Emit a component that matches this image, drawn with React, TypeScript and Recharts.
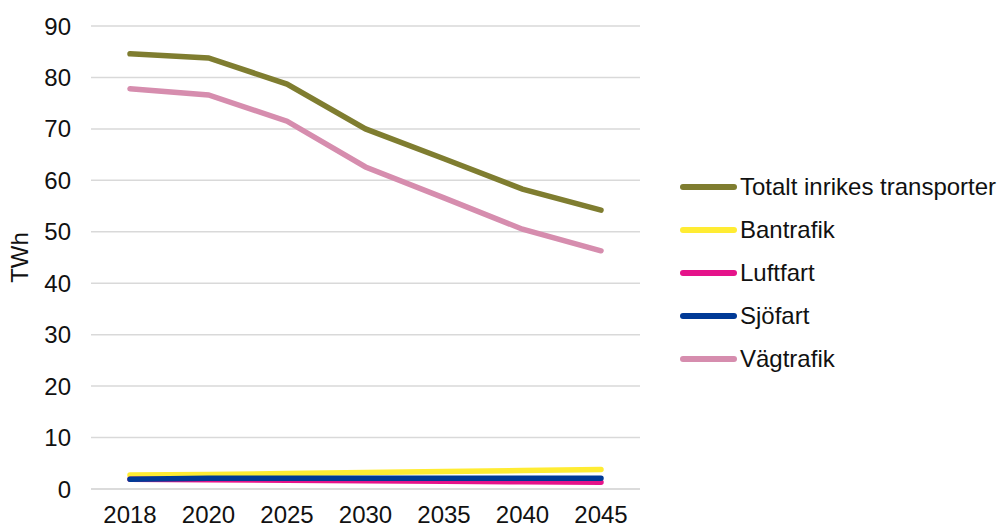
import { LineChart, Line, XAxis, YAxis, CartesianGrid } from 'recharts';

const years = ['2018', '2020', '2025', '2030', '2035', '2040', '2045'];
const totalt = [84.6, 83.8, 78.7, 70.0, 64.2, 58.3, 54.2];
const bantrafik = [2.7, 2.8, 3.0, 3.2, 3.4, 3.6, 3.8];
const luftfart = [1.9, 1.8, 1.7, 1.6, 1.5, 1.4, 1.3];
const sjofart = [1.9, 2.1, 2.1, 2.1, 2.1, 2.1, 2.1];
const vagtrafik = [77.8, 76.6, 71.5, 62.6, 56.6, 50.5, 46.3];
const yTicks = [0, 10, 20, 30, 40, 50, 60, 70, 80, 90];

const series = [
  { key: 'totalt', name: 'Totalt inrikes transporter', color: '#7f7d30', values: totalt },
  { key: 'bantrafik', name: 'Bantrafik', color: '#ffec33', values: bantrafik },
  { key: 'luftfart', name: 'Luftfart', color: '#e5138a', values: luftfart },
  { key: 'sjofart', name: 'Sjöfart', color: '#003a96', values: sjofart },
  { key: 'vagtrafik', name: 'Vägtrafik', color: '#d68dae', values: vagtrafik },
];

const data = years.map((year, i) => {
  const row: Record<string, string | number> = { year };
  series.forEach((s) => {
    row[s.key] = s.values[i];
  });
  return row;
});

const font = 'Arial, "Liberation Sans", sans-serif';
const textColor = '#111';

function LegendBox() {
  return (
    <div
      style={{
        position: 'absolute',
        left: 680,
        top: 165,
        fontFamily: font,
        fontSize: 24,
        color: textColor,
        whiteSpace: 'nowrap',
      }}
    >
      {series.map((s) => (
        <div key={s.key} style={{ display: 'flex', alignItems: 'center', height: 43 }}>
          <div style={{ width: 57, height: 6, background: s.color, borderRadius: 3, marginRight: 3 }} />
          <span>{s.name}</span>
        </div>
      ))}
    </div>
  );
}

export default function App() {
  return (
    <div style={{ position: 'absolute', left: 0, top: 0, width: 1001, height: 526, background: '#fff', overflow: 'hidden' }}>
      <LineChart width={1001} height={526} data={data} margin={{ top: 26, right: 361, bottom: 0, left: 0 }}>
        <CartesianGrid vertical={false} stroke="#d9d9d9" strokeWidth={1.5} />
        <XAxis
          dataKey="year"
          height={37}
          padding={{ left: 39, right: 39 }}
          axisLine={{ stroke: '#d9d9d9', strokeWidth: 1.5 }}
          tickLine={false}
          tickMargin={11}
          tick={{ fontFamily: font, fontSize: 24, fill: textColor }}
        />
        <YAxis
          width={91}
          domain={[0, 90]}
          ticks={yTicks}
          axisLine={false}
          tickLine={false}
          tickMargin={14}
          tick={{ fontFamily: font, fontSize: 24, fill: textColor }}
          label={{
            value: 'TWh',
            angle: -90,
            position: 'insideLeft',
            dx: 14,
            style: { fontFamily: font, fontSize: 24, fill: textColor, textAnchor: 'middle' },
          }}
        />
        {series.map((s) => (
          <Line
            key={s.key}
            type="linear"
            dataKey={s.key}
            name={s.name}
            stroke={s.color}
            strokeWidth={5.5}
            strokeLinecap="round"
            dot={false}
            isAnimationActive={false}
          />
        ))}
      </LineChart>
      <LegendBox />
    </div>
  );
}
